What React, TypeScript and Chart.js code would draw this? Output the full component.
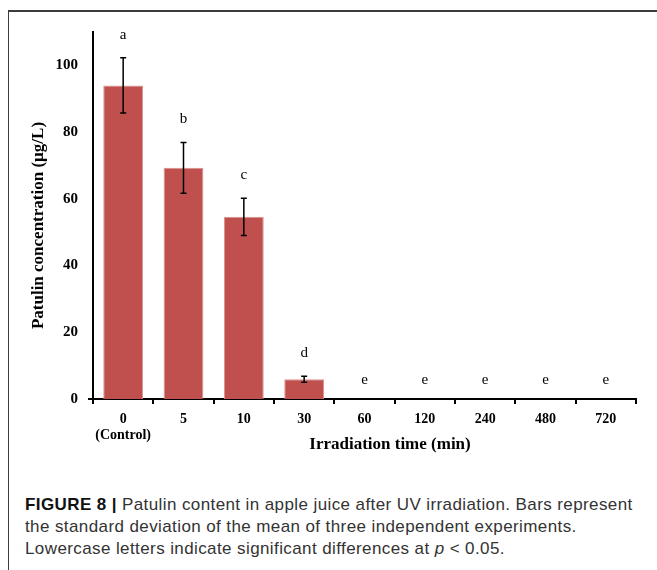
import React, { useEffect, useRef } from "react";
import { Chart, registerables } from "chart.js";

Chart.register(...registerables);

// ---- data ----
const categories: (string | string[])[] = [["0", "(Control)"], "5", "10", "30", "60", "120", "240", "480", "720"];
const means = [94.0, 69.3, 54.6, 5.9, 0, 0, 0, 0, 0];
const sds = [8.3, 7.6, 5.6, 0.9, 0, 0, 0, 0, 0];
const letters = ["a", "b", "c", "d", "e", "e", "e", "e", "e"];
const yTicks = [0, 20, 40, 60, 80, 100];
const yMax = 110;
const yTitle = "Patulin concentration (\u00b5g/L)";
const xTitle = "Irradiation time (min)";

const SERIF = "'Liberation Serif', 'Times New Roman', serif";

const annotPlugin = {
  id: "annot",
  afterDatasetsDraw(chart: any) {
    const { ctx, chartArea, scales } = chart;
    const xs = scales.x;
    const ys = scales.y;
    ctx.save();
    // small outward tick at y = 0
    ctx.strokeStyle = "#000";
    ctx.lineWidth = 2;
    const y0 = ys.getPixelForValue(0);
    ctx.beginPath();
    ctx.moveTo(chartArea.left - 5, y0);
    ctx.lineTo(chartArea.left, y0);
    ctx.stroke();
    // error bars
    ctx.lineWidth = 1.5;
    means.forEach((m, i) => {
      const sd = sds[i];
      if (sd <= 0) return;
      const x = xs.getPixelForValue(i);
      const yt = ys.getPixelForValue(m + sd);
      const yb = ys.getPixelForValue(m - sd);
      ctx.beginPath();
      ctx.moveTo(x, yt);
      ctx.lineTo(x, yb);
      ctx.moveTo(x - 3, yt);
      ctx.lineTo(x + 3, yt);
      ctx.moveTo(x - 3, yb);
      ctx.lineTo(x + 3, yb);
      ctx.stroke();
    });
    // letters
    ctx.fillStyle = "#000";
    ctx.font = `15px ${SERIF}`;
    ctx.textAlign = "center";
    ctx.textBaseline = "middle";
    letters.forEach((l, i) => {
      const x = xs.getPixelForValue(i);
      const top = ys.getPixelForValue(means[i] + sds[i]);
      const off = sds[i] > 0 ? 23 : 19;
      ctx.fillText(l, x, top - off);
    });
    // axis titles
    ctx.font = `bold 17px ${SERIF}`;
    ctx.fillText(xTitle, chartArea.left + 297, chartArea.bottom + 46);
    ctx.translate(31, (chartArea.top + chartArea.bottom) / 2 + 10);
    ctx.rotate(-Math.PI / 2);
    ctx.fillText(yTitle, 0, 0);
    ctx.restore();
  },
};

export default function App() {
  const ref = useRef<HTMLCanvasElement>(null);
  useEffect(() => {
    if (!ref.current) return;
    const chart = new Chart(ref.current, {
      type: "bar",
      data: {
        labels: categories as any,
        datasets: [
          {
            data: means,
            backgroundColor: "#c0504d",
            borderColor: "#d9928f",
            borderWidth: 1,
            barPercentage: 0.66,
            categoryPercentage: 1,
          },
        ],
      },
      options: {
        responsive: false,
        animation: false,
        devicePixelRatio: 1,
        layout: { padding: { left: 18, right: 21, top: 22, bottom: 13 } },
        plugins: { legend: { display: false }, tooltip: { enabled: false } },
        scales: {
          x: {
            afterFit: (s: any) => {
              s.height = 56;
            },
            grid: {
              offset: true,
              drawOnChartArea: false,
              drawTicks: true,
              tickLength: 5,
              color: "#000",
              lineWidth: 2,
            },
            border: { display: true, color: "#000", width: 2 },
            ticks: {
              color: "#000",
              padding: 7,
              maxRotation: 0,
              autoSkip: false,
              font: { family: SERIF, size: 14, weight: "bold", lineHeight: 1.15 },
            },
          },
          y: {
            min: 0,
            max: yMax,
            afterFit: (s: any) => {
              s.width = 67;
            },
            afterBuildTicks: (s: any) => {
              s.ticks = yTicks.map((v) => ({ value: v }));
            },
            grid: { display: false, drawTicks: false },
            border: { display: true, color: "#000", width: 2 },
            ticks: {
              color: "#000",
              padding: 15,
              font: { family: SERIF, size: 15, weight: "bold" },
            },
          },
        },
      },
      plugins: [annotPlugin],
    });
    return () => chart.destroy();
  }, []);

  return (
    <div style={{ position: "relative", width: 649, height: 554, overflow: "hidden" }}>
      <div style={{ position: "fixed", left: 8, top: 10, width: 649, height: 2, background: "#3c3c3c" }} />
      <div style={{ position: "fixed", left: 8, top: 10, bottom: 0, width: 1, background: "#3c3c3c" }} />
      <canvas ref={ref} width={649} height={460} style={{ position: "absolute", left: 0, top: 0 }} />
      <div
        style={{
          position: "absolute",
          left: 17,
          top: 486,
          fontFamily: "'Liberation Sans', Arial, sans-serif",
          fontSize: 17,
          letterSpacing: "0.4px",
          lineHeight: "22px",
          color: "#333",
          whiteSpace: "nowrap",
        }}
      >
        <b style={{ color: "#111" }}>FIGURE 8 |</b> Patulin content in apple juice after UV irradiation. Bars represent
        <br />
        the standard deviation of the mean of three independent experiments.
        <br />
        Lowercase letters indicate significant differences at <i>p</i> &lt; 0.05.
      </div>
    </div>
  );
}
